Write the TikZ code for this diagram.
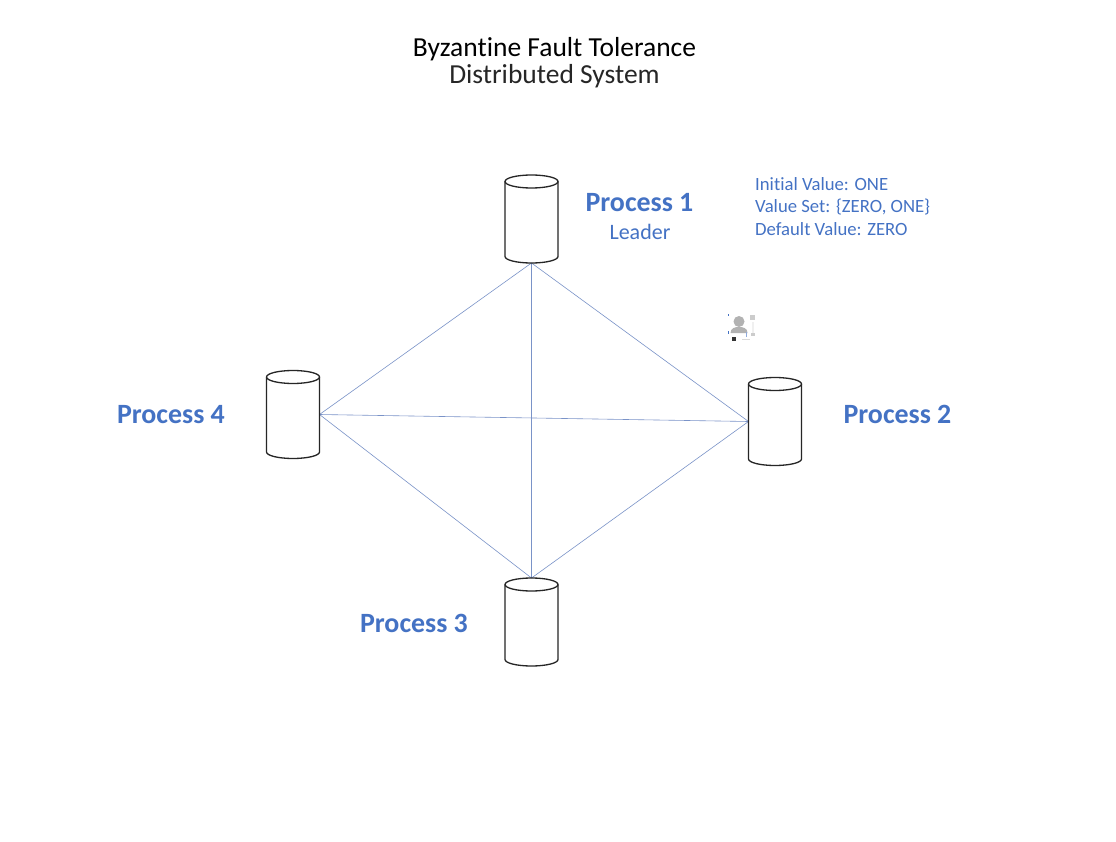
\documentclass[tikz,border=0pt]{standalone}
\usepackage{fontspec}
\setmainfont[Ligatures=NoCommon]{Carlito}
\definecolor{accent}{HTML}{4472C4}
\definecolor{linkc}{HTML}{7A93C8}
\tikzset{
  x=1pt,y=-1pt,
  dbbox/.style={rectangle,minimum width=53pt,minimum height=88pt,inner sep=0pt,outer sep=0pt},
  dbline/.style={draw=black!85,line width=1.3pt},
  link/.style={draw=linkc,line width=0.6pt},
  proc/.style={text=accent,font=\fontsize{27.9}{30}\selectfont\bfseries,inner sep=0pt},
  small/.style={text=accent,font=\fontsize{18.7}{22.5}\selectfont,inner sep=0pt},
  heading/.style={text=black,font=\fontsize{27.5}{27}\selectfont,inner sep=0pt,align=center},
}
\newcommand{\dbdraw}[1]{%
  \draw[dbline] (#1.north west) ++(0,6.5) arc[start angle=180,end angle=-180,x radius=26.5,y radius=6.5];
  \draw[dbline] (#1.north west) ++(0,6.5) -- ([yshift=6.5pt]#1.south west)
     arc[start angle=180,end angle=360,x radius=26.5,y radius=-6.5] -- ([yshift=-6.5pt]#1.north east);
}
\begin{document}
\begin{tikzpicture}
\useasboundingbox[fill=white] (0,0) rectangle (1116,842);
\node[dbbox] (p1) at (531.5,219) {};
\node[dbbox] (p2) at (775,421.5) {};
\node[dbbox] (p3) at (531.5,622) {};
\node[dbbox] (p4) at (293,414.5) {};
\draw[link] (p1.south) -- (p2.west);
\draw[link] (p1.south) -- (p3.north);
\draw[link] (p1.south) -- (p4.east);
\draw[link] (p2.west) -- (p3.north);
\draw[link] (p2.west) -- (p4.east);
\draw[link] (p3.north) -- (p4.east);
\dbdraw{p1}\dbdraw{p2}\dbdraw{p3}\dbdraw{p4}
\node[heading] (title) at (554.5,62.3) {Byzantine Fault Tolerance\\{\color{black!85}Distributed System}};
\node[proc] (l1) at (639.5,202.8) {Process 1};
\node[small,font=\fontsize{22}{24}\selectfont] (lead) at (640,232) {Leader};
\node[proc] (l2) at (897.5,414.4) {Process 2};
\node[proc] (l3) at (414,623.4) {Process 3};
\node[proc] (l4) at (171,414.8) {Process 4};
\node[small,align=left,anchor=north west] (info) at (755,177) {Initial Value: ONE\\Value Set: \{ZERO, ONE\}\\Default Value: ZERO};
% small user icon
\fill[black!30] (739,321.5) circle (5.5);
\fill[black!30] (730.5,333) .. controls (730.5,328) and (735,327) .. (739,327) .. controls (743,327) and (747.5,328) .. (747.5,333) -- cycle;
\fill[black!20] (750,315) rectangle (755,320);
\fill[black!6] (752,322) rectangle (754,333);
\fill[black!20] (751,333) rectangle (755,336);
\fill[black!80] (732,337) rectangle (736,341);
\fill[accent] (728,314) rectangle (729,316);
\fill[accent] (728,331) rectangle (729,334);
\fill[accent!60] (746,332) rectangle (747,337);
\fill[black!15] (742,339) rectangle (750,340);
\end{tikzpicture}
\end{document}
